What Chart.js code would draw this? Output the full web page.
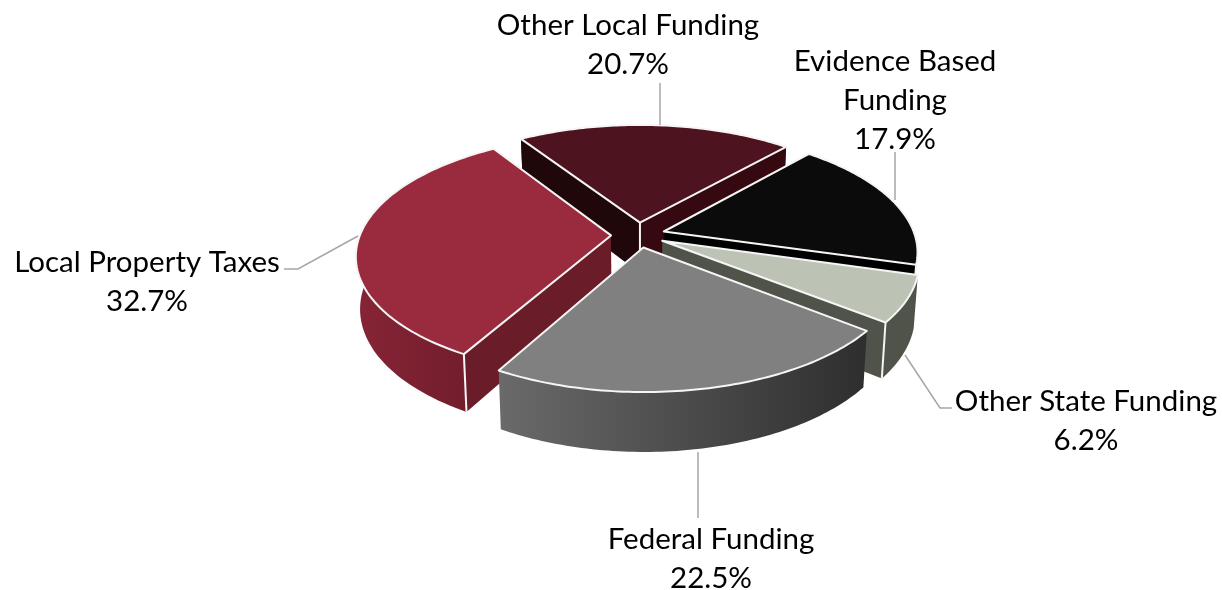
<!DOCTYPE html>
<html>
<head>
<meta charset="utf-8">
<style>
  html, body { margin: 0; padding: 0; background: #fff; }
  #wrap { width: 1222px; height: 590px; }
</style>
</head>
<body>
<div id="wrap"><canvas id="fundingPie" width="1222" height="590"></canvas></div>
<script src="https://cdn.jsdelivr.net/npm/chart.js@4/dist/chart.umd.min.js"></script>
<script>
const categories = ["Other Local Funding", "Evidence Based Funding", "Other State Funding", "Federal Funding", "Local Property Taxes"];
const shares = [20.7, 17.9, 6.2, 22.5, 32.7];

const topColors = ["#4d1420", "#0b0b0b", "#bcc3b4", "#808080", "#9a2a3e"];
const startWallColors = ["#200709", "#000000", "#4f5349", "#333333", "#6b1c29"];
const endWallColors = ["#35090f", "#000000", "#4f5349", "#333333", "#6b1c29"];
const sideStart = ["#35090f", "#000000", "#4f5349", "#6a6a6a", "#862435"];
const sideEnd = ["#35090f", "#000000", "#4f5349", "#2e2e2e", "#6e1c2b"];

// label lines, centre x and first line y; leader lines run from the label to the pie
const labelLines = [["Other Local Funding"], ["Evidence Based", "Funding"], ["Other State Funding"], ["Federal Funding"], ["Local Property Taxes"]];
const labelX = [628, 895, 1086, 711, 147];
const labelY = [25, 61, 401, 539, 262];
const leaders = [
  [[660, 83], [660, 125]],
  [[895, 152], [895, 200]],
  [[952, 408], [940, 408], [905, 355]],
  [[698, 518], [698, 452]],
  [[284, 269], [298, 269], [358, 236]],
];

// camera for the tilted pie
const view = { cx: 638, cy: 235, tilt: 0.466, far: 1570, depth: 52, shrink: 0.015 };

function project(x, y, z) {
  const s = (1 / (1 - y / view.far)) * (1 - view.shrink * z);
  return [view.cx + x * s, view.cy + (y * view.tilt + view.depth * z) * s];
}

function tracePoly(ctx, pts) {
  ctx.beginPath();
  pts.forEach((p, i) => (i ? ctx.lineTo(p[0], p[1]) : ctx.moveTo(p[0], p[1])));
  ctx.closePath();
}

const pie3d = {
  id: "pie3d",
  beforeDatasetsDraw(chart) {
    const ctx = chart.ctx;
    const arcs = chart.getDatasetMeta(0).data;
    const order = arcs.map((a, i) => i).sort((a, b) => {
      const mid = (el) => (el.startAngle + el.endAngle) / 2;
      return Math.sin(mid(arcs[a])) - Math.sin(mid(arcs[b]));
    });

    order.forEach((i) => {
      const arc = arcs[i];
      const a0 = arc.startAngle, a1 = arc.endAngle, r = arc.outerRadius;
      const mid = (a0 + a1) / 2;
      const ox = Math.cos(mid) * arc.options.offset;
      const oy = Math.sin(mid) * arc.options.offset;
      const apex = (z) => project(ox, oy, z);
      const rim = (a, z) => project(ox + Math.cos(a) * r, oy + Math.sin(a) * r, z);
      const curve = (z) => {
        const pts = [];
        for (let k = 0; k <= 80; k++) pts.push(rim(a0 + ((a1 - a0) * k) / 80, z));
        return pts;
      };

      ctx.save();
      ctx.lineJoin = "round";

      // curved side
      const rimTop = curve(0);
      const xs = rimTop.map((p) => p[0]);
      const grad = ctx.createLinearGradient(Math.min(...xs), 0, Math.max(...xs), 0);
      grad.addColorStop(0, sideStart[i]);
      grad.addColorStop(1, sideEnd[i]);
      ctx.fillStyle = grad;
      tracePoly(ctx, rimTop.concat(curve(1).reverse()));
      ctx.fill();

      // flat cut faces that look towards the viewer
      const faces = [
        { a: a0, color: startWallColors[i], seen: Math.sin(a0 - Math.PI / 2) > 0 },
        { a: a1, color: endWallColors[i], seen: Math.sin(a1 + Math.PI / 2) > 0 },
      ];
      faces.filter((f) => f.seen).forEach((f) => {
        ctx.fillStyle = f.color;
        tracePoly(ctx, [apex(0), rim(f.a, 0), rim(f.a, 1), apex(1)]);
        ctx.fill();
      });

      // top face
      ctx.fillStyle = arc.options.backgroundColor;
      ctx.strokeStyle = arc.options.borderColor;
      ctx.lineWidth = arc.options.borderWidth;
      tracePoly(ctx, [apex(0)].concat(rimTop));
      ctx.fill();
      ctx.stroke();

      // white edges where two visible faces meet
      const edge = (p, q) => {
        ctx.beginPath();
        ctx.moveTo(p[0], p[1]);
        ctx.lineTo(q[0], q[1]);
        ctx.stroke();
      };
      if (faces[0].seen && faces[1].seen) edge(apex(0), apex(1));
      faces.forEach((f) => {
        if (f.seen && Math.sin(f.a) > 0) edge(rim(f.a, 0), rim(f.a, 1));
      });
      ctx.restore();
    });
    return false;
  },
  afterDraw(chart) {
    const ctx = chart.ctx;
    ctx.save();
    ctx.strokeStyle = "#a6a6a6";
    ctx.lineWidth = 1.5;
    leaders.forEach((line) => {
      ctx.beginPath();
      line.forEach((p, i) => (i ? ctx.lineTo(p[0], p[1]) : ctx.moveTo(p[0], p[1])));
      ctx.stroke();
    });
    ctx.fillStyle = "#000";
    ctx.font = "29.5px Lato";
    ctx.textAlign = "center";
    ctx.textBaseline = "middle";
    categories.forEach((name, i) => {
      const lines = labelLines[i].concat(shares[i].toFixed(1) + "%");
      lines.forEach((t, n) => ctx.fillText(t, labelX[i], labelY[i] + n * 39));
    });
    ctx.restore();
  },
};

new Chart(document.getElementById("fundingPie"), {
  type: "pie",
  data: {
    labels: categories,
    datasets: [
      {
        data: shares,
        backgroundColor: topColors,
        borderColor: "#f5f5f5",
        borderWidth: 2,
        offset: 27,
      },
    ],
  },
  options: {
    responsive: false,
    animation: false,
    radius: 251,
    rotation: -33,
    events: [],
    plugins: {
      legend: { display: false },
      tooltip: { enabled: false },
    },
  },
  plugins: [pie3d],
});
</script>
</body>
</html>
